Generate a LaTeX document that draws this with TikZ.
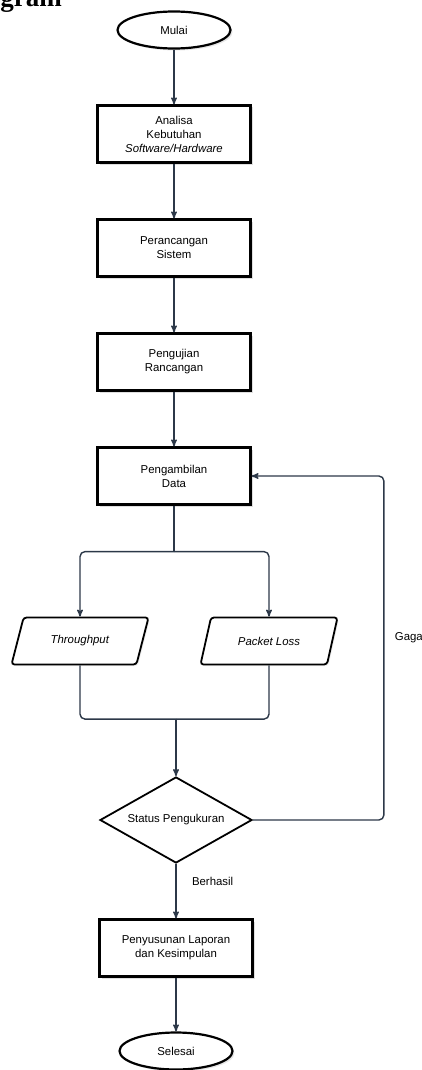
\documentclass[tikz,border=0pt]{standalone}
\usepackage{fontspec}
\setmainfont{Liberation Sans}
\newfontfamily\headfont{Liberation Serif}
\usepackage{tikz}
\usetikzlibrary{calc, shapes, arrows, shadows}
\usetikzlibrary{shapes.misc, positioning}
\definecolor{lineslate}{RGB}{44,56,72}

\begin{document}
\begin{tikzpicture}[x=1pt,y=-1pt,>=stealth',auto,node distance=114pt,
        every node/.style={font=\fontsize{11.4}{14}\selectfont}]
        \tikzstyle{terminal}=[ellipse,draw=black,line width=2.2pt,fill=white,minimum width=113pt,minimum height=37pt,inner sep=1pt,drop shadow={opacity=0.2,shadow xshift=2pt,shadow yshift=-2pt}]
        \tikzstyle{process}=[rectangle,draw=black,line width=2.2pt,fill=white,minimum width=153pt,minimum height=57pt,align=center,drop shadow={opacity=0.25,shadow xshift=2pt,shadow yshift=-2pt}]
        \tikzstyle{io}=[trapezium,trapezium left angle=55,trapezium right angle=125,trapezium stretches body,draw=black,line width=1.8pt,rounded corners=3pt,fill=white,minimum width=137pt,minimum height=47pt,drop shadow={opacity=0.15,shadow xshift=1.5pt,shadow yshift=-1.5pt}]
        \tikzstyle{decision}=[diamond,aspect=1.77,draw=black,line width=1.8pt,fill=white,minimum width=152pt,minimum height=86pt,inner sep=0pt]
        \tikzstyle{flow}=[draw=lineslate,line width=1.4pt]
        \useasboundingbox (0,0) rectangle (421,1070);
        % page heading, cut off at the top
        \node[anchor=base east,inner sep=0pt,font=\headfont\bfseries\fontsize{27}{30}\selectfont](head) at (62,7){gram};
        % main column
        \node[terminal](mulai) at (174,30){Mulai};
        \node[process](analisa)[below of=mulai,node distance=104pt]{Analisa\\Kebutuhan\\\textit{Software/Hardware}};
        \node[process](rancang)[below of=analisa]{Perancangan\\Sistem};
        \node[process](uji)[below of=rancang]{Pengujian\\Rancangan};
        \node[process](ambil)[below of=uji]{Pengambilan\\Data};
        \node[io](tput)[below of=ambil,node distance=165pt,xshift=-94pt]{\textit{Throughput}};
        \node[io](ploss)[below of=ambil,node distance=165pt,xshift=95pt]{\textit{Packet Loss}};
        \node[decision](status)[below of=ambil,node distance=344pt,xshift=2pt]{Status Pengukuran};
        \node[process](lapor)[below of=status,node distance=128pt]{Penyusunan Laporan\\dan Kesimpulan};
        \node[terminal](selesai)[below of=lapor,node distance=103pt]{Selesai};
        \coordinate (split) at ($(ambil.south)+(0,46)$);
        \coordinate (merge) at ($(status.north)+(0,-57)$);
        \coordinate (back) at ($(status.east)+(131,0)$);
        % connectors
        \draw[flow,->] (mulai) -- (analisa);
        \draw[flow,->] (analisa) -- (rancang);
        \draw[flow,->] (rancang) -- (uji);
        \draw[flow,->] (uji) -- (ambil);
        \draw[flow] (ambil) -- (split);
        \draw[flow,->,rounded corners=5pt] (split) -| (tput);
        \draw[flow,->,rounded corners=5pt] (split) -| (ploss);
        \draw[flow,rounded corners=5pt] (tput) |- (merge);
        \draw[flow,rounded corners=5pt] (ploss) |- (merge);
        \draw[flow,->] (merge) -- (status);
        \draw[flow,->] (status) -- node[right,pos=0.33,xshift=12pt]{Berhasil} (lapor);
        \draw[flow,->,rounded corners=5pt] (status.east) -- (back) |- node[right,pos=0.265,xshift=7pt]{Gagal} (ambil.east);
        \draw[flow,->] (lapor) -- (selesai);
     \end{tikzpicture}
\end{document}
